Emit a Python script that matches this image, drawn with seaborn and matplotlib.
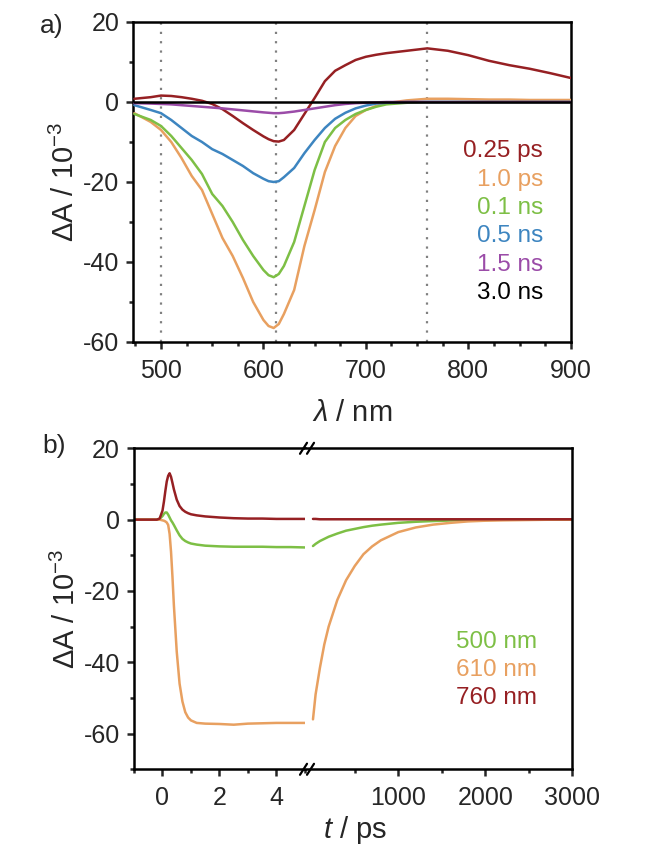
import matplotlib

matplotlib.use("Agg")
import matplotlib.pyplot as plt
from matplotlib.lines import Line2D
from matplotlib.ticker import MultipleLocator
import seaborn as sns

# --- panel a: transient spectra ---
wavelength = [474, 490, 500, 510, 520, 530, 540, 550, 560, 570, 580, 590, 600, 605, 610,
              615, 620, 630, 640, 650, 660, 670, 680, 690, 700, 710, 720, 740, 760, 780,
              800, 820, 840, 860, 880, 900]
spec_025ps = [0.8, 1.2, 1.6, 1.5, 1.2, 0.8, 0.3, -0.5, -1.8, -3.5, -5.3, -7.0, -8.6, -9.3, -9.8,
              -9.9, -9.5, -7.0, -3.0, 1.0, 5.2, 7.8, 9.2, 10.5, 11.3, 11.8, 12.2, 12.8, 13.4, 12.8,
              11.7, 10.3, 9.2, 8.3, 7.2, 6.0]
spec_1ps = [-2.8, -5.0, -7.0, -10.0, -14.0, -18.5, -22.0, -28.0, -34.0, -38.5, -44.0, -50.0, -54.5, -56.0, -56.5,
            -55.5, -53.0, -47.0, -36.0, -27.0, -17.5, -11.0, -6.5, -3.5, -2.0, -1.0, -0.3, 0.4, 0.8, 0.8,
            0.7, 0.6, 0.6, 0.5, 0.5, 0.5]
spec_01ns = [-3.0, -4.5, -6.0, -8.5, -11.5, -14.5, -18.0, -23.0, -26.0, -30.0, -34.5, -38.5, -42.0, -43.3, -43.8,
             -43.0, -41.0, -35.0, -26.0, -17.0, -10.0, -6.5, -4.5, -3.0, -2.0, -1.2, -0.6, -0.2, 0.0, 0.0,
             0.0, 0.0, 0.0, 0.0, 0.0, 0.0]
spec_05ns = [-0.8, -2.0, -2.8, -4.5, -6.5, -8.5, -10.0, -11.8, -13.0, -14.5, -16.0, -17.8, -19.2, -19.8, -20.0,
             -19.8, -18.8, -16.5, -12.8, -9.5, -6.5, -4.2, -2.7, -1.6, -0.9, -0.4, -0.2, 0.0, 0.0, 0.0,
             0.0, 0.0, 0.0, 0.0, 0.0, 0.0]
spec_15ns = [-0.3, -0.4, -0.5, -0.6, -0.8, -1.0, -1.2, -1.4, -1.6, -1.85, -2.1, -2.35, -2.6, -2.7, -2.8,
             -2.8, -2.7, -2.4, -2.0, -1.6, -1.2, -0.8, -0.5, -0.3, -0.2, -0.1, 0.0, 0.0, 0.0, 0.0,
             0.0, 0.0, 0.0, 0.0, 0.0, 0.0]
spec_3ns = [0.0] * len(wavelength)

spec_labels = ["0.25 ps", "1.0 ps", "0.1 ns", "0.5 ns", "1.5 ns", "3.0 ns"]
spec_colors = ["#962023", "#E8A060", "#7DBF45", "#3D85C0", "#9B4CA8", "#000000"]
marker_wl = [500, 612, 760]

# --- panel b: kinetic traces ---
t_short = [-1, -0.5, -0.2, -0.1, 0, 0.05, 0.1, 0.15, 0.2, 0.25, 0.3, 0.35, 0.4, 0.5, 0.6, 0.7,
           0.8, 0.9, 1.0, 1.2, 1.5, 2, 2.5, 3, 3.5, 4, 4.5, 5]
kin500_short = [0, 0, 0, 0.2, 1.0, 1.6, 2.0, 2.0, 1.4, 0.6, -0.2, -0.8, -1.5, -3.0, -4.4, -5.4,
                -6.0, -6.4, -6.7, -7.0, -7.3, -7.5, -7.6, -7.6, -7.6, -7.7, -7.7, -7.8]
kin610_short = [0, 0, 0, 0, -0.2, -0.3, -0.5, -0.8, -1.5, -4.0, -9.0, -16.0, -24.0, -37.0, -46.0, -51.0,
                -54.0, -55.5, -56.3, -57.0, -57.2, -57.3, -57.5, -57.2, -57.1, -57.0, -57.0, -57.0]
kin760_short = [0, 0, 0, 0.3, 2.5, 5.0, 8.0, 10.7, 12.3, 13.0, 12.0, 10.3, 8.5, 5.6, 3.8, 2.8,
                2.2, 1.8, 1.5, 1.2, 0.9, 0.6, 0.4, 0.3, 0.3, 0.2, 0.2, 0.2]

t_long = [20, 50, 100, 150, 200, 300, 400, 500, 600, 700, 800, 1000, 1200, 1400, 1600, 1800,
          2000, 2200, 2500, 2800, 3000]
kin500_long = [-7.4, -6.8, -6.0, -5.4, -4.8, -3.9, -3.1, -2.6, -2.1, -1.7, -1.4, -0.9, -0.6, -0.4, -0.25, -0.15,
               -0.1, 0.0, 0.0, 0.0, 0.0]
kin610_long = [-56.0, -49.0, -41.5, -35.0, -30.0, -22.5, -17.0, -13.0, -9.7, -7.5, -5.8, -3.5, -2.2, -1.4, -0.9, -0.5,
               -0.3, -0.2, -0.1, 0.0, 0.0]
kin760_long = [0.2, 0.2, 0.1, 0.1, 0.1, 0.1, 0.1, 0.1, 0.1, 0.1, 0.1, 0.1, 0.1, 0.1, 0.1, 0.1,
               0.1, 0.1, 0.1, 0.1, 0.1]

kin_labels = ["500 nm", "610 nm", "760 nm"]
kin_colors = ["#7DBF45", "#E8A060", "#962023"]

sns.set_style("ticks")
plt.rcParams["font.family"] = ["Liberation Sans", "DejaVu Sans"]
plt.rcParams["mathtext.fontset"] = "custom"
plt.rcParams["mathtext.rm"] = "Liberation Sans"
plt.rcParams["mathtext.it"] = "Liberation Sans:italic"
plt.rcParams["axes.unicode_minus"] = False

TICK_FS = 18
LABEL_FS = 21
LEG_FS = 17.5
LW = 1.8
SPINE_W = 1.8
YLABEL = r"$\Delta$A / 10$^{-3}$"


def style_axes(ax):
    for s in ax.spines.values():
        s.set_linewidth(SPINE_W)
        s.set_color("black")
    ax.tick_params(which="major", direction="out", length=5, width=SPINE_W,
                   labelsize=TICK_FS, pad=5, top=False, right=False)
    ax.tick_params(which="minor", direction="out", length=3, width=SPINE_W,
                   top=False, right=False)
    ax.tick_params(axis="x", which="major", pad=7)


fig = plt.figure(figsize=(6.46, 8.58), dpi=100)

# ---------------- panel a ----------------
ax_a = fig.add_axes([0.2064, 0.6014, 0.6771, 0.3730])
for w in marker_wl:
    ax_a.axvline(w, color="#808080", lw=1.6, linestyle=(0, (1, 3.2)), zorder=1)
spectra = [spec_025ps, spec_1ps, spec_01ns, spec_05ns, spec_15ns, spec_3ns]
for vals, col in zip(spectra, spec_colors):
    sns.lineplot(x=wavelength, y=vals, ax=ax_a, color=col, lw=LW, errorbar=None, zorder=3)
ax_a.set_xlim(473, 900)
ax_a.set_ylim(-60, 20)
ax_a.xaxis.set_major_locator(MultipleLocator(100))
ax_a.xaxis.set_minor_locator(MultipleLocator(25))
ax_a.yaxis.set_major_locator(MultipleLocator(20))
ax_a.yaxis.set_minor_locator(MultipleLocator(10))
style_axes(ax_a)
ax_a.set_xlabel(r"$\mathit{\lambda}$ / nm", fontsize=LABEL_FS, labelpad=12)
ax_a.set_ylabel(YLABEL, fontsize=LABEL_FS, labelpad=2)
for i, (lab, col) in enumerate(zip(spec_labels, spec_colors)):
    ax_a.text(0.937, 0.578 - i * 0.089, lab, color=col, fontsize=LEG_FS,
              ha="right", va="baseline", transform=ax_a.transAxes)
fig.text(0.062, 0.9615, "a)", fontsize=19, ha="left", va="baseline")

# ---------------- panel b ----------------
ax_b1 = fig.add_axes([0.2074, 0.1034, 0.2647, 0.3741])
ax_b2 = fig.add_axes([0.4721, 0.1034, 0.4138, 0.3741], sharey=ax_b1)

short_sets = [kin500_short, kin610_short, kin760_short]
long_sets = [kin500_long, kin610_long, kin760_long]
for vals, col in zip(short_sets, kin_colors):
    sns.lineplot(x=t_short, y=vals, ax=ax_b1, color=col, lw=LW, errorbar=None)
for vals, col in zip(long_sets, kin_colors):
    sns.lineplot(x=t_long, y=vals, ax=ax_b2, color=col, lw=LW, errorbar=None)

ax_b1.set_xlim(-1, 5)
ax_b2.set_xlim(-72, 3000)
ax_b1.set_ylim(-70, 20)
ax_b1.xaxis.set_major_locator(MultipleLocator(2))
ax_b1.xaxis.set_minor_locator(MultipleLocator(1))
ax_b2.set_xticks([1000, 2000, 3000])
ax_b2.set_xticks([500, 1500, 2500], minor=True)
ax_b1.yaxis.set_major_locator(MultipleLocator(20))
ax_b1.yaxis.set_minor_locator(MultipleLocator(10))
style_axes(ax_b1)
style_axes(ax_b2)
ax_b1.spines["right"].set_visible(False)
ax_b2.spines["left"].set_visible(False)
ax_b2.tick_params(axis="y", which="both", left=False, labelleft=False)
ax_b1.set_ylabel(YLABEL, fontsize=LABEL_FS, labelpad=2)
ax_b1.set_xlabel("")
ax_b2.set_xlabel("")
fig.text(0.5503, 0.0233, r"$\mathit{t}$ / ps", fontsize=LABEL_FS, ha="center", va="baseline")
for i, (lab, col) in enumerate(zip(kin_labels, kin_colors)):
    ax_b2.text(0.869, 0.377 - i * 0.087, lab, color=col, fontsize=LEG_FS,
               ha="right", va="baseline", transform=ax_b2.transAxes)
fig.text(0.065, 0.472, "b)", fontsize=19, ha="left", va="baseline")

# axis-break marks on top and bottom spines
W, H = 646.0, 858.0
for ypx in (448.3, 769.3):
    for xc in (303.5, 310.5):
        fig.add_artist(Line2D([(xc - 3.5) / W, (xc + 3.5) / W],
                              [1 - (ypx + 5.5) / H, 1 - (ypx - 5.5) / H],
                              transform=fig.transFigure, color="black", lw=1.6))

fig.savefig("out.png", dpi=100)
plt.close(fig)
